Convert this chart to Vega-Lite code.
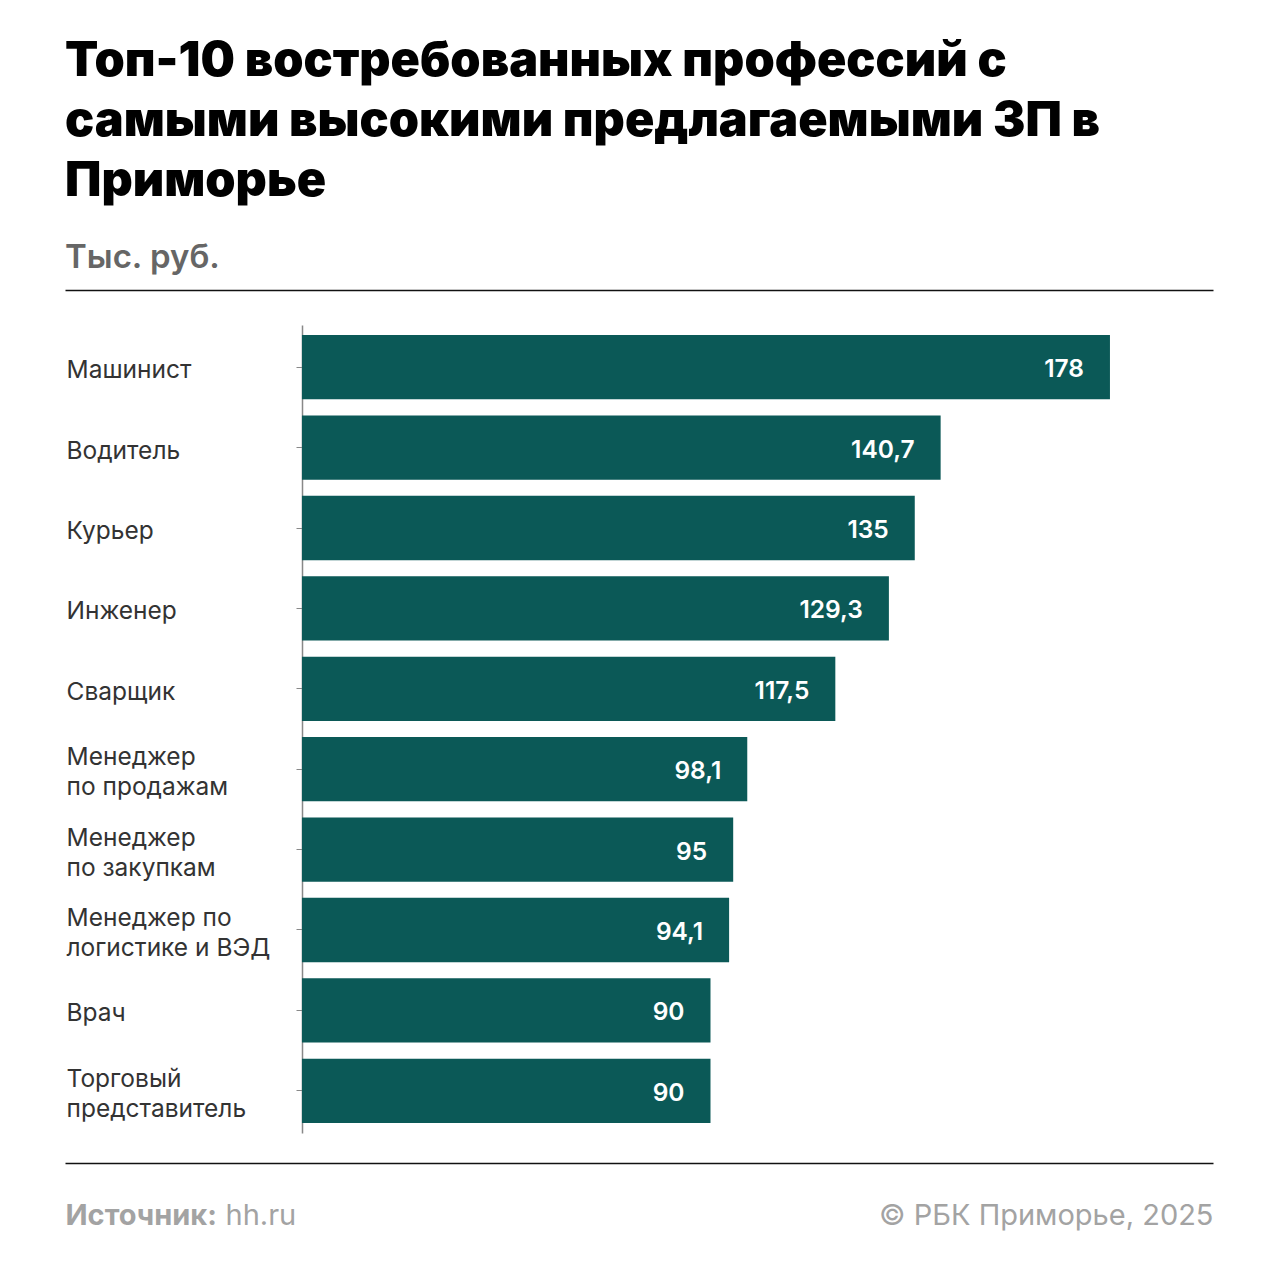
{
  "$schema": "https://vega.github.io/schema/vega-lite/v6.json",
  "autosize": "none",
  "width": 1148,
  "height": 808,
  "padding": {"left": 65, "top": 325, "right": 67, "bottom": 147},
  "background": "#ffffff",
  "config": {
    "view": {"stroke": null},
    "font": "Inter",
    "locale": {"number": {"decimal": ",", "thousands": " ", "grouping": [3], "currency": ["", ""]}}
  },
  "title": {
    "text": ["Топ-10 востребованных профессий с", "самыми высокими предлагаемыми ЗП в", "Приморье"],
    "subtitle": "Тыс. руб.",
    "anchor": "start",
    "font": "Inter",
    "fontSize": 48.5,
    "fontWeight": 900,
    "color": "#000000",
    "lineHeight": 60,
    "subtitleFont": "Inter",
    "subtitleFontSize": 33,
    "subtitleFontWeight": 600,
    "subtitleColor": "#666666",
    "subtitlePadding": 36,
    "offset": 14
  },
  "data": {
    "values": [
      {"profession": "Машинист", "salary": 178},
      {"profession": "Водитель", "salary": 140.7},
      {"profession": "Курьер", "salary": 135},
      {"profession": "Инженер", "salary": 129.3},
      {"profession": "Сварщик", "salary": 117.5},
      {"profession": "Менеджер|по продажам", "salary": 98.1},
      {"profession": "Менеджер|по закупкам", "salary": 95},
      {"profession": "Менеджер по|логистике и ВЭД", "salary": 94.1},
      {"profession": "Врач", "salary": 90},
      {"profession": "Торговый|представитель", "salary": 90}
    ]
  },
  "layer": [
    {
      "mark": {"type": "bar", "color": "#0b5957"},
      "encoding": {
        "y": {
          "field": "profession",
          "type": "nominal",
          "sort": null,
          "scale": {"paddingInner": 0.2, "paddingOuter": 0.125},
          "axis": {
            "orient": "left",
            "offset": -237,
            "domainColor": "#888888",
            "domainWidth": 1.5,
            "tickColor": "#888888",
            "tickSize": 6,
            "labelAlign": "left",
            "labelPadding": 230,
            "labelFont": "Inter",
            "labelFontSize": 24.5,
            "labelColor": "#333333",
            "labelLineHeight": 30,
            "labelLimit": 300,
            "labelOffset": {"condition": {"test": "indexof(datum.value, '|') >= 0", "value": -11}, "value": 4},
            "labelExpr": "split(datum.label, '|')",
            "title": "Источник:",
            "titleAngle": 0,
            "titleX": -237,
            "titleY": 899,
            "titleAlign": "left",
            "titleBaseline": "alphabetic",
            "titleFont": "Inter",
            "titleFontSize": 29,
            "titleFontWeight": 700,
            "titleColor": "#a3a3a3"
          }
        },
        "x": {
          "field": "salary",
          "type": "quantitative",
          "scale": {"domain": [-52.2, 200.7], "nice": false, "zero": false},
          "axis": {
            "orient": "bottom",
            "offset": 30,
            "domain": true,
            "domainColor": "#111111",
            "domainWidth": 1.5,
            "ticks": false,
            "labels": false,
            "grid": false,
            "title": "© РБК Приморье, 2025",
            "titleAnchor": "end",
            "titleAlign": "right",
            "titleBaseline": "alphabetic",
            "titleX": 1148,
            "titleY": 61,
            "titleFont": "Inter",
            "titleFontSize": 29,
            "titleFontWeight": 400,
            "titleColor": "#a3a3a3"
          }
        },
        "x2": {"datum": 0}
      }
    },
    {
      "mark": {"type": "text", "color": "#ffffff", "align": "right", "baseline": "middle", "dx": -26, "dy": 3, "font": "Inter", "fontSize": 24.5, "fontWeight": 600},
      "encoding": {
        "y": {
          "field": "profession",
          "type": "nominal",
          "sort": null,
          "axis": {
            "orient": "right",
            "domain": false,
            "ticks": false,
            "labels": false,
            "grid": false,
            "title": "hh.ru",
            "titleAngle": 0,
            "titleX": -988,
            "titleY": 899,
            "titleAlign": "left",
            "titleBaseline": "alphabetic",
            "titleFont": "Inter",
            "titleFontSize": 29,
            "titleFontWeight": 400,
            "titleColor": "#a3a3a3"
          }
        },
        "x": {
          "field": "salary",
          "type": "quantitative",
          "axis": {
            "orient": "top",
            "offset": 35,
            "domain": true,
            "domainColor": "#111111",
            "domainWidth": 1.5,
            "ticks": false,
            "labels": false,
            "grid": false,
            "title": null
          }
        },
        "text": {"field": "salary", "type": "quantitative", "format": ".1~f"}
      }
    }
  ],
  "resolve": {"axis": {"x": "independent", "y": "independent"}}
}
